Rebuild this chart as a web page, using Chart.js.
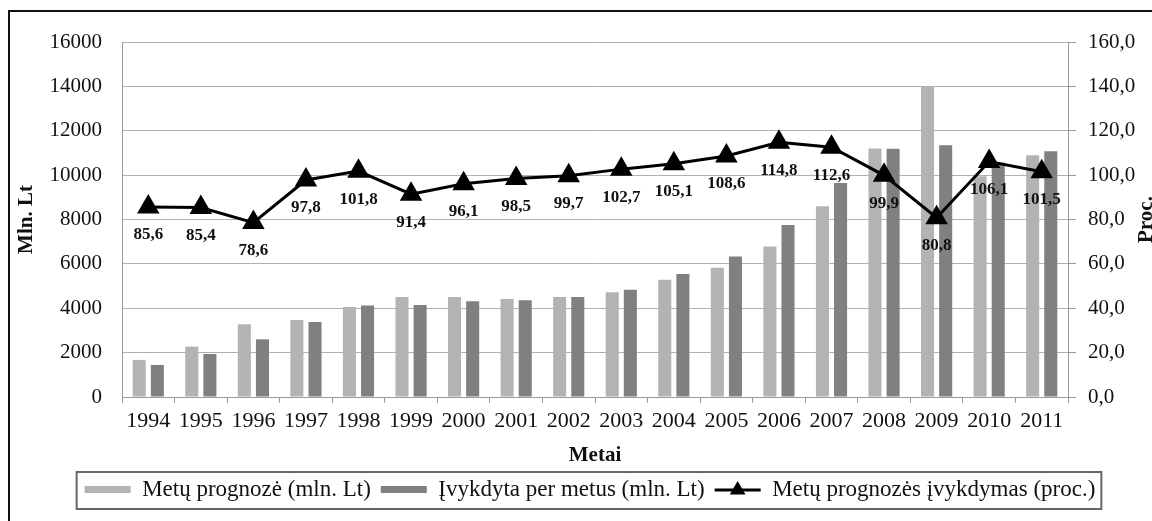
<!DOCTYPE html>
<html>
<head>
<meta charset="utf-8">
<script src="https://cdn.jsdelivr.net/npm/chart.js@4.4.1/dist/chart.umd.min.js"></script>
<style>
  html, body { margin: 0; padding: 0; background: #fff; overflow: hidden; }
  #wrap { width: 1152px; height: 521px; }
</style>
</head>
<body>
<div id="wrap"><canvas id="chart"></canvas></div>
<script>
// data
const years = ['1994','1995','1996','1997','1998','1999','2000','2001','2002','2003','2004','2005','2006','2007','2008','2009','2010','2011'];
const forecast = [1670, 2270, 3280, 3475, 4060, 4510, 4510, 4420, 4510, 4720, 5280, 5820, 6780, 8600, 11200, 14010, 9950, 10900];
const actual = [1445, 1940, 2600, 3385, 4120, 4150, 4320, 4360, 4510, 4830, 5540, 6330, 7750, 9650, 11190, 11350, 10560, 11080];
const fulfilment = [85.6, 85.4, 78.6, 97.8, 101.8, 91.4, 96.1, 98.5, 99.7, 102.7, 105.1, 108.6, 114.8, 112.6, 99.9, 80.8, 106.1, 101.5];
const seriesNames = ['Metų prognozė (mln. Lt)', 'Įvykdyta per metus (mln. Lt)', 'Metų prognozės įvykdymas (proc.)'];
const leftMax = 16000, leftStep = 2000;
const rightMax = 160, rightStep = 20;

const serif = "'Liberation Serif', 'Times New Roman', serif";
const comma = v => v.toFixed(1).replace('.', ',');

const frame = {
  id: 'frame',
  beforeDraw(chart) {
    const c = chart.ctx;
    c.save();
    c.fillStyle = '#fff';
    c.fillRect(0, 0, chart.width, chart.height);
    c.strokeStyle = '#111';
    c.lineWidth = 2;
    c.strokeRect(9, 11, chart.width + 40, chart.height + 40);
    c.restore();
  }
};

const pointLabels = {
  id: 'pointLabels',
  afterDatasetsDraw(chart) {
    const c = chart.ctx;
    const meta = chart.getDatasetMeta(2);
    c.save();
    c.font = "bold 17px " + serif;
    c.fillStyle = '#111';
    c.textAlign = 'center';
    c.textBaseline = 'middle';
    meta.data.forEach((pt, i) => {
      c.fillText(comma(fulfilment[i]), pt.x, pt.y + 28);
    });
    c.restore();
  }
};

function vTitle(c, text, x, y) {
  c.save();
  c.translate(x, y);
  c.rotate(-Math.PI / 2);
  c.font = "bold 21px " + serif;
  c.fillStyle = '#111';
  c.textAlign = 'center';
  c.textBaseline = 'middle';
  c.fillText(text, 0, 0);
  c.restore();
}

const extras = {
  id: 'extras',
  afterDraw(chart) {
    const c = chart.ctx;
    const boxes = chart.legend.legendHitBoxes;
    c.save();
    // legend frame
    const first = boxes[0], last = boxes[boxes.length - 1];
    c.strokeStyle = '#666';
    c.lineWidth = 2;
    c.strokeRect(first.left - 8, first.top - 6, last.left + last.width - first.left + 14, first.height + 14);
    // line + triangle symbol for the third entry
    const b = boxes[2];
    const cy = b.top + 12;
    c.strokeStyle = '#000';
    c.lineWidth = 3;
    c.beginPath();
    c.moveTo(b.left, cy);
    c.lineTo(b.left + 46, cy);
    c.stroke();
    c.fillStyle = '#000';
    c.beginPath();
    const tx = b.left + 23, r = 9;
    c.moveTo(tx, cy - r);
    c.lineTo(tx + r * 0.87, cy + r * 0.5);
    c.lineTo(tx - r * 0.87, cy + r * 0.5);
    c.closePath();
    c.fill();
    c.restore();
    // axis titles, both read bottom to top
    const area = chart.chartArea;
    const mid = (area.top + area.bottom) / 2;
    vTitle(c, 'Mln. Lt', 27, mid);
    vTitle(c, 'Proc.', 1147, mid);
  }
};

new Chart(document.getElementById('chart'), {
  type: 'bar',
  data: {
    labels: years,
    datasets: [
      { label: seriesNames[0], data: forecast, backgroundColor: '#b3b3b3', yAxisID: 'y', order: 1,
        categoryPercentage: 0.69, barPercentage: 0.72 },
      { label: seriesNames[1], data: actual, backgroundColor: '#808080', yAxisID: 'y', order: 1,
        categoryPercentage: 0.69, barPercentage: 0.72 },
      { label: seriesNames[2], data: fulfilment, type: 'line', yAxisID: 'y1', order: 0,
        borderColor: '#000', backgroundColor: '#000', borderWidth: 3,
        pointStyle: 'triangle', pointRadius: 10, pointHoverRadius: 10, tension: 0 }
    ]
  },
  options: {
    responsive: true,
    maintainAspectRatio: false,
    devicePixelRatio: 1,
    animation: false,
    layout: { padding: { top: 42, left: 28, right: 0, bottom: 10 } },
    plugins: {
      tooltip: { enabled: false },
      legend: {
        position: 'bottom',
        labels: {
          font: { family: serif, size: 23 },
          color: '#111',
          boxWidth: 46,
          boxHeight: 7,
          padding: 10,
          sort: (a, b) => a.datasetIndex - b.datasetIndex,
          generateLabels(chart) {
            const items = Chart.defaults.plugins.legend.labels.generateLabels(chart);
            items.forEach(it => {
              it.lineWidth = 0;
              if (it.datasetIndex === 2) {
                it.fillStyle = 'rgba(0,0,0,0)';
                it.strokeStyle = 'rgba(0,0,0,0)';
              }
            });
            return items;
          }
        }
      }
    },
    scales: {
      x: {
        grid: { offset: true, drawOnChartArea: false, drawTicks: true, tickLength: 6, color: '#9a9a9a' },
        border: { color: '#9a9a9a' },
        ticks: { font: { family: serif, size: 22 }, color: '#111', padding: 5, maxRotation: 0, autoSkip: false },
        title: { display: true, text: 'Metai', font: { family: serif, size: 21, weight: 'bold' }, color: '#111', padding: { top: 0, bottom: 0 } },
        afterFit(s) { s.height = 71; }
      },
      y: {
        position: 'left',
        min: 0, max: leftMax,
        ticks: { stepSize: leftStep, font: { family: serif, size: 21 }, color: '#111', padding: 20,
          callback: v => String(v) },
        grid: { color: '#b0b0b0', drawTicks: false },
        border: { color: '#9a9a9a' },
        afterFit(s) { s.width = 94; }
      },
      y1: {
        position: 'right',
        min: 0, max: rightMax,
        ticks: { stepSize: rightStep, font: { family: serif, size: 21 }, color: '#111', padding: 12,
          callback: v => comma(v) },
        grid: { drawOnChartArea: false, tickLength: 8, color: '#9a9a9a' },
        border: { color: '#9a9a9a' },
        afterFit(s) { s.width = 84; }
      }
    }
  },
  plugins: [frame, pointLabels, extras]
});
</script>
</body>
</html>
